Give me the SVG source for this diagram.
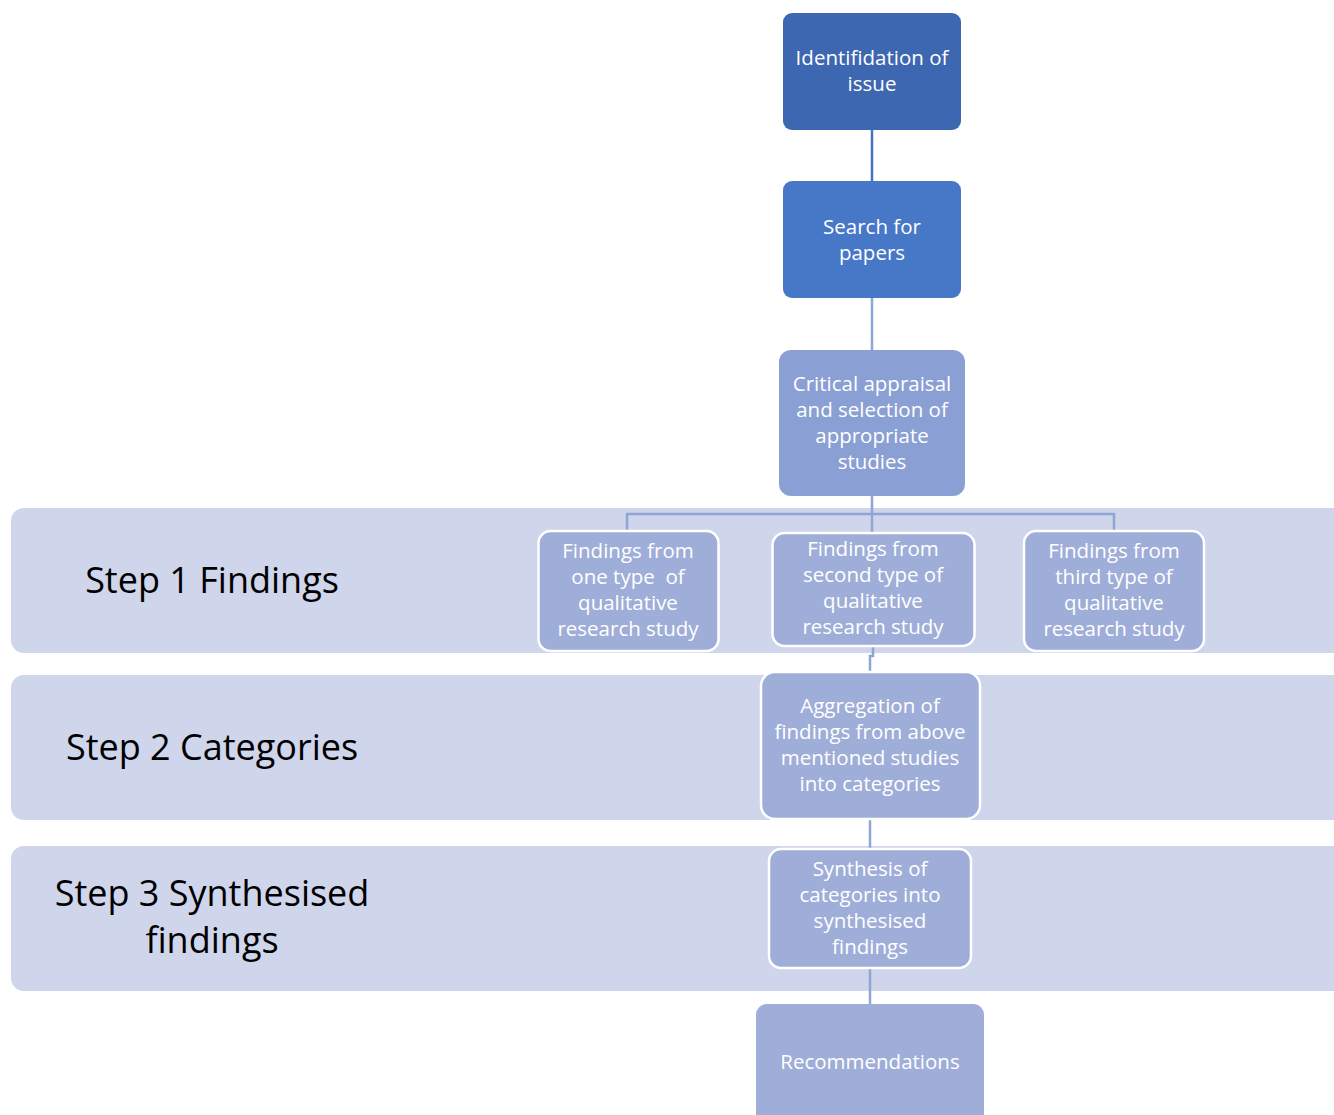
<svg xmlns="http://www.w3.org/2000/svg" width="1334" height="1115" viewBox="0 0 1334 1115">
  <style>
    .band { fill: #CFD5EA; }
    .step { font-family: "Open Sans", "Noto Sans", sans-serif; font-size: 36px; fill: #000; text-anchor: middle; }
    .lbl { font-family: "Open Sans", "Noto Sans", sans-serif; font-size: 20.5px; fill: #fff; text-anchor: middle; white-space: pre; }
    .wire { fill: none; stroke-width: 2.5; }
    .outlined { stroke: #fff; stroke-width: 2.5; }
  </style>
  <rect width="1334" height="1115" fill="#fff"/>

  <!-- step bands -->
  <g id="band-step1">
    <rect class="band" x="11" y="508" width="1340" height="145" rx="13"/>
    <text class="step" x="212" y="593">Step 1 Findings</text>
  </g>
  <g id="band-step2">
    <rect class="band" x="11" y="675" width="1340" height="145" rx="13"/>
    <text class="step" x="212" y="760">Step 2 Categories</text>
  </g>
  <g id="band-step3">
    <rect class="band" x="11" y="846" width="1340" height="145" rx="13"/>
    <text class="step" x="212" y="906">Step 3 Synthesised</text>
    <text class="step" x="212" y="953">findings</text>
  </g>

  <!-- connectors -->
  <g id="connectors">
    <path class="wire" stroke="#4472C4" d="M872 130 V181"/>
    <path class="wire" stroke="#8EA5D6" d="M872 298 V350"/>
    <path class="wire" stroke="#8EA5D6" d="M872 496 V532 M627 531 V514 H1114 V531"/>
    <path class="wire" stroke="#8EA5D6" d="M873 646 V656 H870 V672"/>
    <path class="wire" stroke="#8EA5D6" d="M870 820 V848"/>
    <path class="wire" stroke="#8EA5D6" d="M870 968 V1005"/>
  </g>

  <g id="identification">
    <rect x="783" y="13" width="178" height="117" rx="9" fill="#3D67B1"/>
    <text class="lbl" x="872" y="65">Identifidation of</text>
    <text class="lbl" x="872" y="91">issue</text>
  </g>
  <g id="search">
    <rect x="783" y="181" width="178" height="117" rx="9" fill="#4778C7"/>
    <text class="lbl" x="872" y="234">Search for</text>
    <text class="lbl" x="872" y="260">papers</text>
  </g>
  <g id="appraisal">
    <rect x="779" y="350" width="186" height="146" rx="12" fill="#8A9FD3"/>
    <text class="lbl" x="872" y="391">Critical appraisal</text>
    <text class="lbl" x="872" y="417">and selection of</text>
    <text class="lbl" x="872" y="443">appropriate</text>
    <text class="lbl" x="872" y="469">studies</text>
  </g>
  <g id="findings-one">
    <rect class="outlined" x="538.5" y="531" width="180" height="120" rx="12" fill="#9FAED8"/>
    <text class="lbl" x="628" y="558">Findings from</text>
    <text class="lbl" x="628" y="584" xml:space="preserve">one type  of</text>
    <text class="lbl" x="628" y="610">qualitative</text>
    <text class="lbl" x="628" y="636">research study</text>
  </g>
  <g id="findings-second">
    <rect class="outlined" x="772.5" y="533" width="202" height="113" rx="12" fill="#9FAED8"/>
    <text class="lbl" x="873" y="556">Findings from</text>
    <text class="lbl" x="873" y="582">second type of</text>
    <text class="lbl" x="873" y="608">qualitative</text>
    <text class="lbl" x="873" y="634">research study</text>
  </g>
  <g id="findings-third">
    <rect class="outlined" x="1024" y="531" width="180" height="120" rx="12" fill="#9FAED8"/>
    <text class="lbl" x="1114" y="558">Findings from</text>
    <text class="lbl" x="1114" y="584">third type of</text>
    <text class="lbl" x="1114" y="610">qualitative</text>
    <text class="lbl" x="1114" y="636">research study</text>
  </g>
  <g id="aggregation">
    <rect class="outlined" x="761" y="672" width="219" height="147" rx="14" fill="#9FAED8"/>
    <text class="lbl" x="870" y="713">Aggregation of</text>
    <text class="lbl" x="870" y="739">findings from above</text>
    <text class="lbl" x="870" y="765">mentioned studies</text>
    <text class="lbl" x="870" y="791">into categories</text>
  </g>
  <g id="synthesis">
    <rect class="outlined" x="769" y="849" width="202" height="119" rx="12" fill="#9FAED8"/>
    <text class="lbl" x="870" y="876">Synthesis of</text>
    <text class="lbl" x="870" y="902">categories into</text>
    <text class="lbl" x="870" y="928">synthesised</text>
    <text class="lbl" x="870" y="954">findings</text>
  </g>
  <g id="recommendations">
    <rect x="756" y="1004" width="228" height="125" rx="11" fill="#9FAED8"/>
    <text class="lbl" x="870" y="1069">Recommendations</text>
  </g>
</svg>
